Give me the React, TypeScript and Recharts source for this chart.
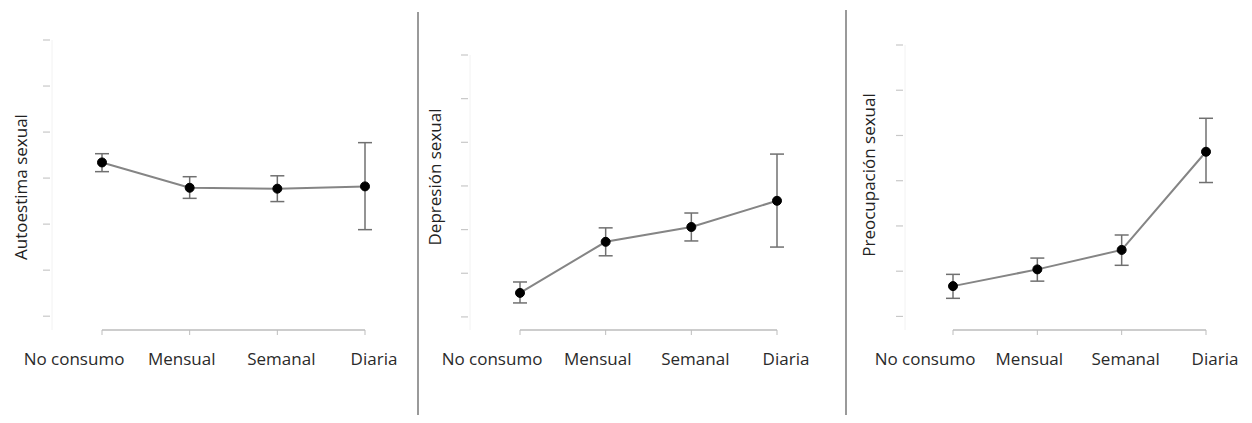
import React from "react";
import { ErrorBar, Line, LineChart, ReferenceLine, XAxis, YAxis } from "recharts";

const categories = ["No consumo", "Mensual", "Semanal", "Diaria"];
const yTicks = [0, 1, 2, 3, 4, 5, 6];

const autoestimaMean = [3.34, 2.79, 2.77, 2.82];
const autoestimaHigh = [3.53, 3.03, 3.05, 3.77];
const autoestimaLow = [3.14, 2.56, 2.49, 1.88];

const depresionMean = [0.55, 1.72, 2.06, 2.66];
const depresionHigh = [0.8, 2.04, 2.38, 3.73];
const depresionLow = [0.32, 1.4, 1.74, 1.6];

const preocupacionMean = [0.67, 1.04, 1.47, 3.64];
const preocupacionHigh = [0.93, 1.29, 1.8, 4.38];
const preocupacionLow = [0.4, 0.78, 1.13, 2.96];

// small horizontal nudges of the category labels, as in the original figure
const labelShift = [-28, -8, 4, 9];

const buildRows = (mean: number[], high: number[], low: number[]) =>
  categories.map((name, i) => ({
    name,
    value: mean[i],
    err: [mean[i] - low[i], high[i] - mean[i]],
  }));

type PanelProps = {
  title: string;
  rows: ReturnType<typeof buildRows>;
  left: number;
  width: number;
  plotTop: number;
  yAxisX: number;
  firstX: number;
  lastX: number;
  titleX: number;
  titleY: number;
};

const CategoryTick = (props: any) => {
  const { x, y, payload, index } = props;
  return (
    <text
      x={x + (labelShift[index] ?? 0)}
      y={y + 16}
      dy="0.71em"
      textAnchor="middle"
      fill="#2a2a2a"
      fontSize={17}
      fontFamily="'Open Sans', sans-serif"
    >
      {payload.value}
    </text>
  );
};

// the y axis carries only faint dashes, no readable numbers
const FaintTick = (props: any) => {
  const { x, y } = props;
  return <line x1={x - 9} x2={x - 2} y1={y} y2={y} stroke="#c8c8c8" strokeWidth={1.2} />;
};

function Panel({ title, rows, left, width, plotTop, yAxisX, firstX, lastX, titleX, titleY }: PanelProps) {
  const chartHeight = 423;
  const xAxisHeight = 40;
  const plotBottom = 330;
  const yAxisWidth = 10;
  const marginLeft = yAxisX - left - yAxisWidth;
  const marginRight = width - (lastX - left);

  return (
    <>
      <div style={{ position: "absolute", left, top: 0 }}>
        <LineChart
          width={width}
          height={chartHeight}
          data={rows}
          margin={{
            top: plotTop,
            bottom: chartHeight - plotBottom - xAxisHeight,
            left: marginLeft,
            right: marginRight,
          }}
        >
          <XAxis
            dataKey="name"
            height={xAxisHeight}
            axisLine={false}
            tickLine={{ stroke: "#bdbdbd" }}
            tickSize={5}
            padding={{ left: firstX - yAxisX, right: 0 }}
            tick={<CategoryTick />}
            interval={0}
          />
          <YAxis
            width={yAxisWidth}
            domain={[-0.3, 6]}
            ticks={yTicks}
            allowDataOverflow
            axisLine={{ stroke: "#f2f2f2" }}
            tickLine={false}
            tickSize={0}
            tickMargin={0}
            tick={<FaintTick />}
          />
          <ReferenceLine
            segment={[
              { x: categories[0], y: -0.3 },
              { x: categories[categories.length - 1], y: -0.3 },
            ]}
            stroke="#bdbdbd"
            strokeWidth={1.5}
            ifOverflow="visible"
          />
          <Line
            type="linear"
            dataKey="value"
            stroke="#858585"
            strokeWidth={2}
            dot={{ r: 4.5, fill: "#000", stroke: "#000", strokeWidth: 1 }}
            isAnimationActive={false}
          >
            <ErrorBar dataKey="err" direction="y" width={7} stroke="#707070" strokeWidth={1.5} />
          </Line>
        </LineChart>
      </div>
      <div
        style={{
          position: "absolute",
          left: titleX,
          top: titleY,
          transform: "translate(-50%, -50%) rotate(-90deg)",
          whiteSpace: "nowrap",
          fontSize: 17,
          color: "#222",
          fontFamily: "'Open Sans', sans-serif",
        }}
      >
        {title}
      </div>
    </>
  );
}

export default function App() {
  return (
    <div
      style={{
        position: "relative",
        margin: -8,
        width: 1252,
        height: 423,
        background: "#fff",
        overflow: "hidden",
      }}
    >
      <Panel
        title="Autoestima sexual"
        rows={buildRows(autoestimaMean, autoestimaHigh, autoestimaLow)}
        left={0}
        width={410}
        plotTop={40}
        yAxisX={52}
        firstX={102}
        lastX={365}
        titleX={20}
        titleY={187}
      />
      <Panel
        title="Depresión sexual"
        rows={buildRows(depresionMean, depresionHigh, depresionLow)}
        left={420}
        width={420}
        plotTop={55}
        yAxisX={470}
        firstX={520}
        lastX={777}
        titleX={434}
        titleY={177}
      />
      <Panel
        title="Preocupación sexual"
        rows={buildRows(preocupacionMean, preocupacionHigh, preocupacionLow)}
        left={850}
        width={400}
        plotTop={45}
        yAxisX={905}
        firstX={953}
        lastX={1206}
        titleX={868}
        titleY={175}
      />
      <div style={{ position: "absolute", left: 417, top: 12, width: 1.5, height: 411, background: "#9a9a9a" }} />
      <div style={{ position: "absolute", left: 845, top: 10, width: 1.5, height: 413, background: "#9a9a9a" }} />
    </div>
  );
}
